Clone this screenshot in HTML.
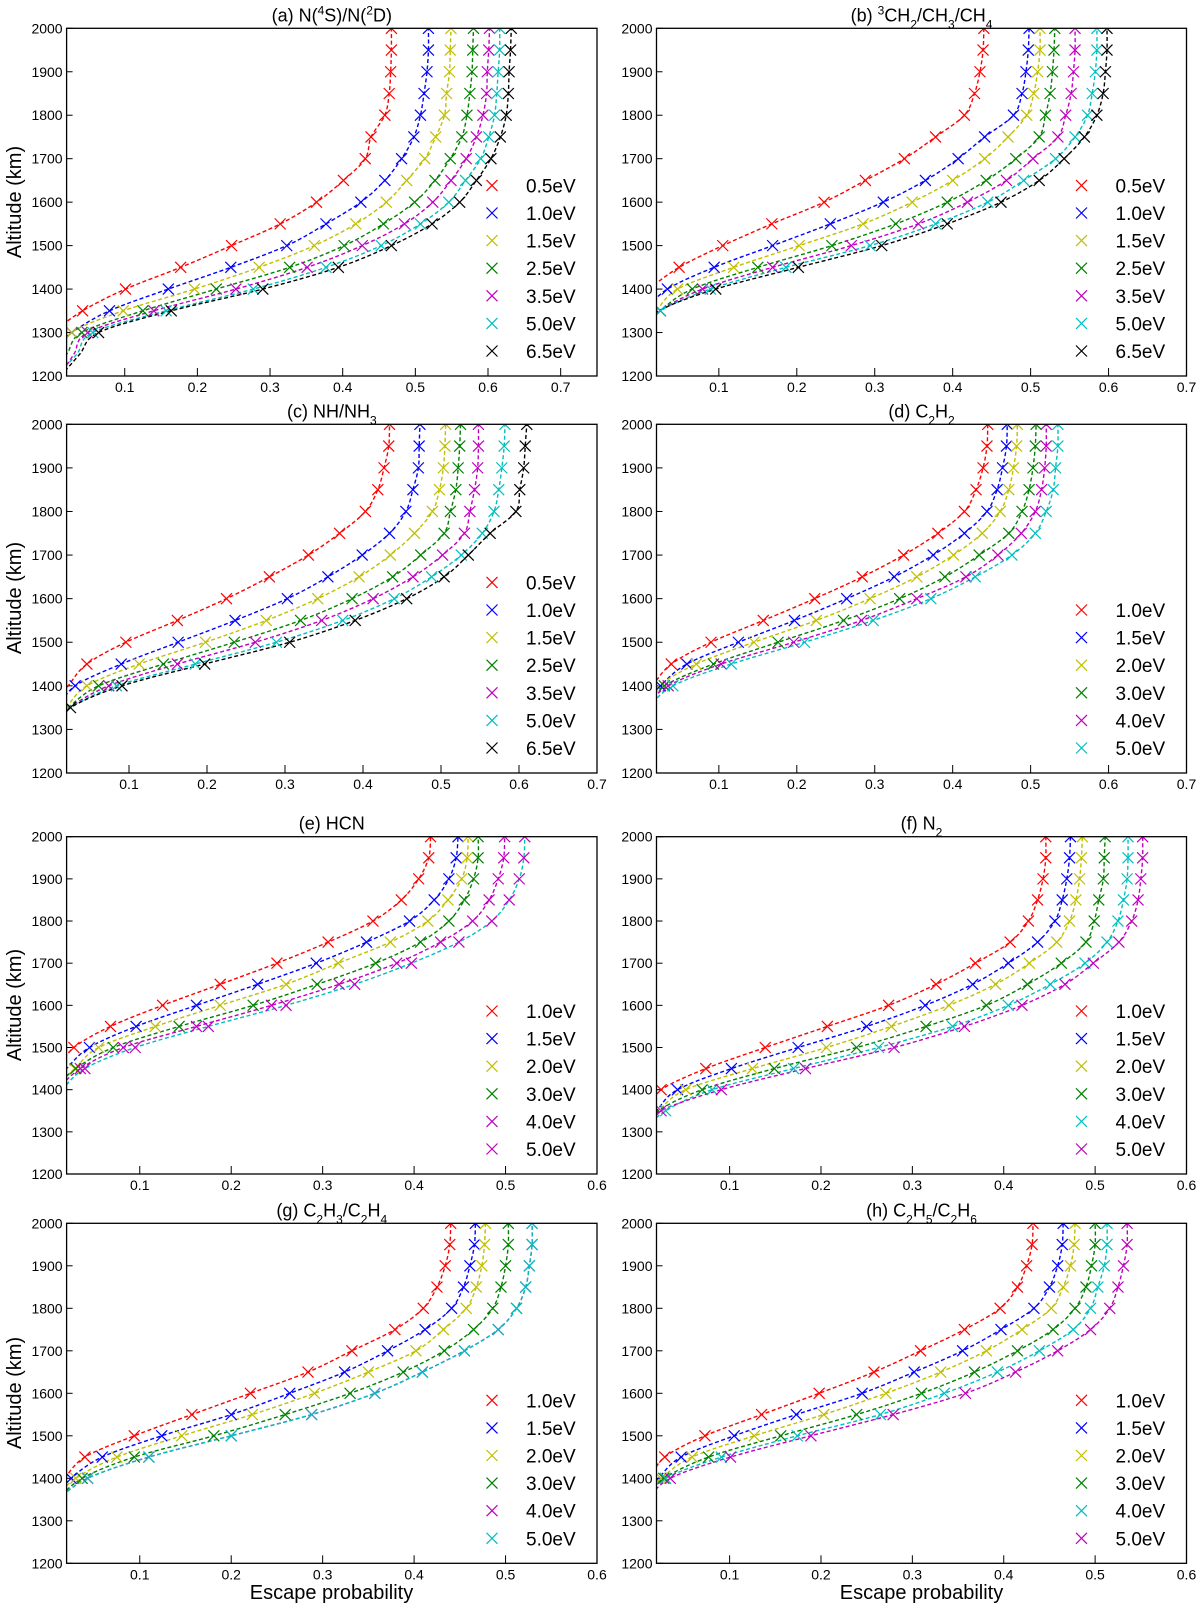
<!DOCTYPE html>
<html><head><meta charset="utf-8"><title>Escape probability vs altitude</title>
<style>
html,body{margin:0;padding:0;background:#fff;}
svg text{font-family:"Liberation Sans",sans-serif;fill:#000;}
</style></head>
<body>
<svg id="fig" width="1200" height="1610" viewBox="0 0 1200 1610" xmlns="http://www.w3.org/2000/svg">
<text x="0" y="0" font-size="20" text-anchor="middle" transform="translate(21,202) rotate(-90)">Altitude (km)</text>
<text x="0" y="0" font-size="20" text-anchor="middle" transform="translate(21,598) rotate(-90)">Altitude (km)</text>
<text x="0" y="0" font-size="20" text-anchor="middle" transform="translate(21,1005) rotate(-90)">Altitude (km)</text>
<text x="0" y="0" font-size="20" text-anchor="middle" transform="translate(21,1393) rotate(-90)">Altitude (km)</text>
<text x="331.5" y="1599" font-size="20" text-anchor="middle">Escape probability</text>
<text x="921.5" y="1599" font-size="20" text-anchor="middle">Escape probability</text>
</svg>
<script>
const ALTS = [2000,1950,1900,1850,1800,1750,1700,1650,1600,1550,1500,1450,1400,1350,1300,1250,1200];
const Y_TICKS = [1200,1300,1400,1500,1600,1700,1800,1900,2000];
const X_TICKS_A = [0.1,0.2,0.3,0.4,0.5,0.6,0.7];
const X_TICKS_E = [0.1,0.2,0.3,0.4,0.5,0.6];

// (a)
const a05=[.467,.467,.466,.464,.458,.439,.431,.401,.364,.314,.247,.177,.101,.042,.0];
const a10=[.518,.518,.516,.512,.507,.498,.481,.458,.425,.377,.323,.246,.160,.079,.027,-.01];
const a15=[.549,.548,.547,.543,.540,.528,.513,.488,.460,.418,.361,.285,.196,.098,.027,.015];
const a25=[.580,.579,.578,.575,.571,.564,.548,.527,.499,.456,.402,.327,.226,.125,.041,.02,-.005];
const a35=[.602,.601,.599,.598,.593,.584,.570,.549,.524,.485,.427,.351,.253,.140,.049,.03,.01];
const a50=[.616,.616,.614,.612,.609,.601,.590,.569,.546,.507,.453,.377,.277,.157,.056,.034,.005];
const a65=[.632,.631,.629,.628,.625,.617,.604,.584,.561,.523,.467,.394,.290,.164,.064,.038,.012];
// (b)
const b05=[.440,.439,.435,.428,.415,.378,.338,.288,.235,.168,.105,.049,.01];
const b10=[.498,.497,.494,.489,.478,.441,.407,.365,.311,.243,.169,.094,.034,.005];
const b15=[.512,.512,.509,.504,.495,.471,.441,.400,.348,.285,.203,.119,.047,.02];
const b25=[.531,.530,.528,.525,.519,.511,.481,.443,.393,.327,.245,.150,.066,.025,.0];
const b35=[.557,.557,.555,.552,.545,.535,.503,.469,.419,.356,.270,.169,.079,.025,.0];
const b50=[.585,.585,.583,.579,.573,.557,.532,.491,.445,.378,.294,.186,.089,.025,.0];
const b65=[.598,.598,.596,.593,.585,.569,.543,.511,.462,.393,.309,.202,.096,.023,-.005];
// (c)
const c05=[.434,.433,.427,.419,.403,.370,.330,.280,.225,.162,.096,.046,.022,.0];
const c10=[.473,.472,.471,.464,.455,.434,.399,.355,.303,.236,.163,.090,.031,.01];
const c15=[.506,.505,.503,.498,.489,.466,.435,.395,.342,.276,.198,.113,.046,.02];
const c25=[.525,.524,.522,.519,.512,.504,.474,.438,.386,.320,.235,.144,.061,.022];
const c35=[.548,.548,.547,.543,.537,.530,.502,.464,.413,.347,.262,.162,.074,.022];
const c50=[.582,.581,.578,.574,.568,.553,.526,.488,.440,.374,.289,.185,.084,.022];
const c65=[.610,.608,.606,.601,.596,.563,.535,.504,.456,.390,.306,.197,.091,.025,.0];
// (d)
const d10=[.445,.444,.439,.430,.415,.381,.337,.284,.223,.157,.090,.039,.015];
const d15=[.470,.469,.464,.457,.444,.415,.375,.325,.264,.197,.125,.059,.025,.0];
const d20=[.483,.482,.478,.472,.461,.438,.401,.354,.294,.225,.145,.071,.023,.0];
const d30=[.507,.506,.503,.498,.489,.472,.434,.390,.332,.260,.176,.093,.03,.0];
const d40=[.520,.520,.518,.514,.506,.488,.458,.417,.354,.283,.196,.103,.035,.005];
const d50=[.535,.535,.532,.529,.520,.506,.476,.429,.372,.298,.210,.116,.041,.01];
// (e)
const e10=[.418,.416,.405,.386,.355,.306,.250,.188,.125,.068,.028,.01];
const e15=[.448,.446,.438,.422,.395,.348,.293,.229,.162,.096,.045,.02,.0];
const e20=[.459,.458,.452,.437,.415,.374,.317,.260,.188,.117,.055,.029,.005];
const e30=[.470,.470,.465,.455,.438,.407,.358,.294,.224,.143,.071,.03,.005];
const e40=[.499,.498,.492,.482,.464,.429,.381,.318,.244,.162,.082,.035,.01];
const e50=[.521,.520,.515,.504,.485,.449,.397,.335,.260,.175,.095,.04,.015];
// (f)
const f10=[.446,.446,.443,.437,.427,.407,.369,.326,.274,.207,.139,.074,.025,.005];
const f15=[.473,.472,.469,.464,.456,.437,.405,.366,.314,.250,.175,.102,.043,.02,.0];
const f20=[.486,.485,.483,.479,.472,.458,.428,.391,.340,.277,.206,.125,.052,.022,.0];
const f30=[.511,.510,.509,.504,.499,.490,.463,.426,.381,.315,.239,.149,.070,.022,.0];
const f40=[.536,.536,.535,.531,.525,.513,.489,.451,.405,.344,.263,.170,.081,.03,.005];
const f50=[.552,.552,.550,.547,.540,.526,.498,.467,.420,.357,.280,.183,.091,.025,.0];
// (g)
const g10=[.440,.439,.434,.425,.410,.379,.332,.284,.221,.157,.094,.040,.018];
const g15=[.467,.466,.461,.454,.441,.412,.371,.324,.264,.200,.124,.059,.025,.005];
const g20=[.478,.477,.474,.468,.457,.432,.402,.350,.291,.223,.146,.075,.03,.005];
const g30=[.503,.503,.500,.495,.486,.465,.433,.388,.330,.259,.181,.094,.037,.01];
const g40=[.529,.529,.526,.522,.512,.492,.455,.409,.357,.288,.200,.110,.043,.01];
const g50=[.529,.529,.526,.522,.512,.492,.455,.409,.357,.288,.200,.110,.043,.01];
// (h)
const h10=[.432,.431,.425,.415,.396,.357,.309,.258,.198,.135,.073,.029,.013];
const h15=[.465,.464,.459,.450,.433,.397,.355,.302,.245,.173,.105,.047,.022,.0];
const h20=[.478,.477,.473,.465,.452,.420,.381,.331,.271,.203,.127,.059,.025,.0];
const h30=[.500,.500,.496,.490,.478,.454,.415,.368,.310,.239,.156,.077,.028,.0];
const h40=[.513,.513,.510,.503,.495,.476,.439,.393,.335,.265,.174,.091,.03,.005];
const h50=[.535,.535,.531,.525,.516,.495,.459,.413,.358,.279,.189,.101,.035,.01];

const LABELS7 = ['0.5eV','1.0eV','1.5eV','2.5eV','3.5eV','5.0eV','6.5eV'];
const LABELS6 = ['1.0eV','1.5eV','2.0eV','3.0eV','4.0eV','5.0eV'];

const R='#ff0000',B='#0000ff',Yc='#bfbf00',G='#008000',M='#bf00bf',C='#00bfbf',K='#000000';
const COL7=[R,B,Yc,G,M,C,K], COL6=[R,B,Yc,G,M,C];
const L=[66.6,597], RT=[656.5,1186.5];
const ROWS=[[28.3,376],[424.3,773],[836.7,1174],[1223.3,1563.3]];

const SUP=n=>'<tspan baseline-shift="super" font-size="12">'+n+'</tspan>';
const SUB=n=>'<tspan baseline-shift="sub" font-size="12">'+n+'</tspan>';
const panels=[
 {id:'a',title:'(a) N('+SUP(4)+'S)/N('+SUP(2)+'D)',col:L,row:ROWS[0],xmax:.75,ticks:X_TICKS_A,series:[a05,a10,a15,a25,a35,a50,a65],labels:LABELS7,colors:COL7,mcolors:COL7},
 {id:'b',title:'(b) '+SUP(3)+'CH'+SUB(2)+'/CH'+SUB(3)+'/CH'+SUB(4),col:RT,row:ROWS[0],xmax:.70,ticks:X_TICKS_A,series:[b05,b10,b15,b25,b35,b50,b65],labels:LABELS7,colors:COL7,mcolors:COL7},
 {id:'c',title:'(c) NH/NH'+SUB(3),col:L,row:ROWS[1],xmax:.70,ticks:X_TICKS_A,series:[c05,c10,c15,c25,c35,c50,c65],labels:LABELS7,colors:COL7,mcolors:COL7},
 {id:'d',title:'(d) C'+SUB(2)+'H'+SUB(2),col:RT,row:ROWS[1],xmax:.70,ticks:X_TICKS_A,series:[d10,d15,d20,d30,d40,d50],labels:LABELS6,colors:COL6,mcolors:COL6},
 {id:'e',title:'(e) HCN',col:L,row:ROWS[2],xmax:.60,ticks:X_TICKS_E,series:[e10,e15,e20,e30,e40,e50],labels:LABELS6,colors:COL6,mcolors:[R,B,Yc,G,M,M]},
 {id:'f',title:'(f) N'+SUB(2),col:RT,row:ROWS[2],xmax:.60,ticks:X_TICKS_E,series:[f10,f15,f20,f30,f40,f50],labels:LABELS6,colors:[R,B,Yc,G,C,M],mcolors:[R,B,Yc,G,C,M]},
 {id:'g',title:'(g) C'+SUB(2)+'H'+SUB(3)+'/C'+SUB(2)+'H'+SUB(4),col:L,row:ROWS[3],xmax:.60,ticks:X_TICKS_E,series:[g10,g15,g20,g30,g40,g50],labels:LABELS6,colors:COL6,mcolors:COL6},
 {id:'h',title:'(h) C'+SUB(2)+'H'+SUB(5)+'/C'+SUB(2)+'H'+SUB(6),col:RT,row:ROWS[3],xmax:.60,ticks:X_TICKS_E,series:[h10,h15,h20,h30,h40,h50],labels:LABELS6,colors:[R,B,Yc,G,C,M],mcolors:[R,B,Yc,G,C,M]}
];

const NS='http://www.w3.org/2000/svg';
const svg=document.getElementById('fig');
function mk(tag,attrs,parent){const e=document.createElementNS(NS,tag);for(const k in attrs)e.setAttribute(k,attrs[k]);(parent||svg).appendChild(e);return e;}

function smoothPath(pts){
  if(pts.length<2)return '';
  let d='M'+pts[0][0].toFixed(2)+','+pts[0][1].toFixed(2);
  for(let i=0;i<pts.length-1;i++){
    const p0=pts[i>0?i-1:i],p1=pts[i],p2=pts[i+1],p3=pts[i+2<pts.length?i+2:i+1];
    const c1x=p1[0]+(p2[0]-p0[0])/6,c1y=p1[1]+(p2[1]-p0[1])/6;
    const c2x=p2[0]-(p3[0]-p1[0])/6,c2y=p2[1]-(p3[1]-p1[1])/6;
    d+=' C'+c1x.toFixed(2)+','+c1y.toFixed(2)+' '+c2x.toFixed(2)+','+c2y.toFixed(2)+' '+p2[0].toFixed(2)+','+p2[1].toFixed(2);
  }
  return d;
}
function cross(g,x,y,s,color){
  return mk('path',{d:`M${x-s},${y-s}L${x+s},${y+s}M${x-s},${y+s}L${x+s},${y-s}`,stroke:color,'stroke-width':1.2,fill:'none'},g);
}

panels.forEach(P=>{
  const x0=P.col[0],x1=P.col[1],y0=P.row[0],y1=P.row[1];
  const xmin=0.02,xmax=P.xmax;
  const sx=v=>x0+(v-xmin)/(xmax-xmin)*(x1-x0);
  const sy=a=>y1-(a-1200)/800*(y1-y0);
  const g=mk('g',{});
  
  
  const clip=mk('clipPath',{id:'clip-'+P.id},g);
  mk('rect',{x:x0,y:y0,width:x1-x0,height:y1-y0},clip);
  const t=mk('text',{x:(x0+x1)/2,y:y0-7,'font-size':18,'text-anchor':'middle'},g);
  t.innerHTML=P.title;
  
  
  Y_TICKS.forEach(v=>{
    const y=sy(v);
    const tk=mk('line',{x1:x0,y1:y,x2:x0+6,y2:y,stroke:'#000','stroke-width':1},g);
    
    
    const lb=mk('text',{x:x0-4,y:y+5,'font-size':14,'text-anchor':'end'},g);
    lb.textContent=String(v);
    
    
  });
  P.ticks.forEach(v=>{
    const x=sx(v);
    const tk=mk('line',{x1:x,y1:y1,x2:x,y2:y1-8,stroke:'#000','stroke-width':1},g);
    
    
    const lb=mk('text',{x:x,y:y1+16,'font-size':14,'text-anchor':'middle'},g);
    lb.textContent=v.toFixed(1);
    
    
  });
  const sg=mk('g',{'clip-path':'url(#clip-'+P.id+')'},g);
  P.series.forEach((arr,si)=>{
    const pts=arr.map((v,i)=>[sx(v),sy(ALTS[i])]).reverse();
    const line=mk('path',{d:smoothPath(pts),stroke:P.colors[si],'stroke-width':1.4,fill:'none','stroke-dasharray':'4 2.5'},sg);
    
    
  });
  P.series.forEach((arr,si)=>{
    arr.forEach((v,i)=>{
      if(ALTS[i]>=1300 && v>=0.024){
        const m=cross(sg,sx(v),sy(ALTS[i]),5.5,P.mcolors[si]);
        
        
      }
    });
  });
  const fr=mk('rect',{x:x0,y:y0,width:x1-x0,height:y1-y0,fill:'none',stroke:'#000','stroke-width':1.3},g);
  
  
  const n=P.labels.length;
  const lx=x1-105, tx=x1-71;
  P.labels.forEach((lab,i)=>{
    const ly=y1-25-(n-1-i)*27.6;
    const lg=mk('g',{},g);
    
    
    cross(lg,lx,ly,5.5,P.mcolors[i]);
    const tt=mk('text',{x:tx,y:ly+7,'font-size':19},lg);
    tt.textContent=lab;
  });
});
</script>
</body></html>
